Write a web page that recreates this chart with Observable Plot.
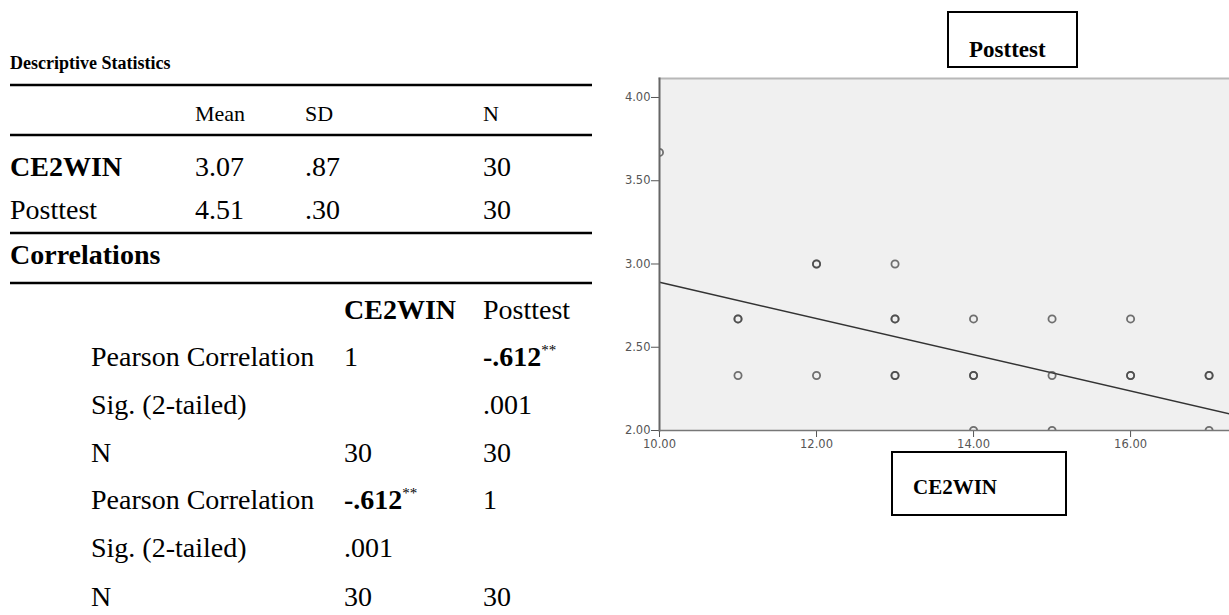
<!DOCTYPE html>
<html><head><meta charset="utf-8">
<script src="https://cdn.jsdelivr.net/npm/d3@7"></script>
<script src="https://cdn.jsdelivr.net/npm/@observablehq/plot@0.6"></script>
<style>
body{margin:0;background:#fff;}
#root{position:relative;width:1229px;height:615px;overflow:hidden;}
#plot{position:absolute;left:590px;top:60px;}
#table{position:absolute;left:0;top:0;}
</style></head><body><div id="root"><div id="plot"></div><svg id="table" width="1229" height="615"></svg></div>
<script>
// ---- Descriptive statistics table ----
const descTitle = "Descriptive Statistics";
const descHeaders = ["Mean", "SD", "N"];
const descVars = ["CE2WIN", "Posttest"];
const descMean = ["3.07", "4.51"];
const descSD = [".87", ".30"];
const descN = ["30", "30"];
// ---- Correlations table ----
const corrTitle = "Correlations";
const corrHeaders = ["CE2WIN", "Posttest"];
const corrRowLabels = ["Pearson Correlation", "Sig. (2-tailed)", "N", "Pearson Correlation", "Sig. (2-tailed)", "N"];
const corrCE2WIN = ["1", "", "30", "-.612**", ".001", "30"];
const corrPosttest = ["-.612**", ".001", "30", "1", "", "30"];
// ---- Scatter data ----
const ce2win   = [10,   11,   11,   11,   12,   12,   12,   13,   13,   13,   13,   13,   14,   14,   14,   14,   15,   15,   15,   16,   16,   16,   17,   17,   17];
const posttest = [3.67, 2.67, 2.67, 2.33, 3.00, 3.00, 2.33, 3.00, 2.67, 2.67, 2.33, 2.33, 2.67, 2.33, 2.33, 2.00, 2.67, 2.33, 2.00, 2.67, 2.33, 2.33, 2.33, 2.33, 2.00];
const fitX = [10, 17.26];
const fitY = [2.89, 2.10];
const xTicks = [10, 12, 14, 16];
const yTicks = [2, 2.5, 3, 3.5, 4];
const xTitle = "CE2WIN";
const yTitle = "Posttest";

const points = ce2win.map((x, i) => ({x, y: posttest[i]}));
const fit = fitX.map((x, i) => ({x, y: fitY[i]}));

const chart = Plot.plot({
  width: 639, height: 400,
  marginLeft: 69, marginRight: 0, marginTop: 18, marginBottom: 30,
  x: {domain: [10, 17.26]},
  y: {domain: [2, 4.114]},
  style: {background: "transparent", fontFamily: "DejaVu Sans, sans-serif", fontSize: "11.5px", color: "#555"},
  marks: [
    Plot.frame({fill: "#f0f0f0", stroke: null}),
    Plot.frame({anchor: "top", stroke: "#b8b8b8", strokeWidth: 2}),
    Plot.axisY({ticks: yTicks, tickFormat: d => d.toFixed(2), tickSize: 8, tickPadding: 1, stroke: "#555", fill: "#555", label: null}),
    Plot.axisX({ticks: xTicks, tickFormat: d => d.toFixed(2), tickSize: 7, tickPadding: 2, stroke: "#555", fill: "#555", label: null}),
    Plot.line(fit, {x: "x", y: "y", stroke: "#333", strokeWidth: 1.5, clip: "frame"}),
    Plot.dot(points, {x: "x", y: "y", r: 3.6, stroke: "#444", strokeOpacity: 0.75, strokeWidth: 1.8, fill: "none", clip: "frame"}),
    Plot.frame({anchor: "left", stroke: "#666", strokeWidth: 2}),
    Plot.frame({anchor: "bottom", stroke: "#777", strokeWidth: 1.5})
  ]
});
document.getElementById("plot").appendChild(chart);

// ---- table drawing ----
const svg = d3.select("#table");
const serif = "Liberation Serif, Times New Roman, serif";
const F = 28;
function txt(x, y, s, size, bold) {
  const t = svg.append("text").attr("x", x).attr("y", y)
    .attr("font-family", serif).attr("font-size", size)
    .attr("font-weight", bold ? "bold" : "normal").attr("fill", "#000");
  if (s.endsWith("**")) {
    t.append("tspan").text(s.slice(0, -2));
    t.append("tspan").attr("font-size", 15).attr("dy", -11).attr("font-weight", "normal").text("**");
  } else t.text(s);
  return t;
}
function rule(y) {
  svg.append("line").attr("x1", 10).attr("x2", 592).attr("y1", y).attr("y2", y)
    .attr("stroke", "#000").attr("stroke-width", 2.5);
}
txt(10, 69, descTitle, 18, true);
rule(85);
const dCols = [195, 305, 483];
descHeaders.forEach((h, i) => txt(dCols[i], 121, h, 22, false));
rule(135);
const dRows = [176, 219];
descVars.forEach((v, r) => {
  txt(10, dRows[r], v, F, r === 0);
  txt(dCols[0], dRows[r], descMean[r], F, false);
  txt(dCols[1], dRows[r], descSD[r], F, false);
  txt(dCols[2], dRows[r], descN[r], F, false);
});
rule(233);
txt(10, 264, corrTitle, F, true);
rule(283);
const cCols = [344, 483];
txt(cCols[0], 319, corrHeaders[0], F, true);
txt(cCols[1], 319, corrHeaders[1], F, false);
const cRows = [366, 414, 462, 509, 557, 606];
corrRowLabels.forEach((l, r) => {
  txt(91, cRows[r], l, F, false);
  if (corrCE2WIN[r]) txt(cCols[0], cRows[r], corrCE2WIN[r], F, corrCE2WIN[r].startsWith("-"));
  if (corrPosttest[r]) txt(cCols[1], cRows[r], corrPosttest[r], F, corrPosttest[r].startsWith("-"));
});
// axis title boxes
svg.append("rect").attr("x", 948).attr("y", 12).attr("width", 129).attr("height", 55)
  .attr("fill", "#fff").attr("stroke", "#000").attr("stroke-width", 2);
txt(969, 57, yTitle, 23, true);
svg.append("rect").attr("x", 892).attr("y", 452).attr("width", 174).attr("height", 63)
  .attr("fill", "#fff").attr("stroke", "#000").attr("stroke-width", 2);
txt(913, 494, xTitle, 21, true);
</script></body></html>
